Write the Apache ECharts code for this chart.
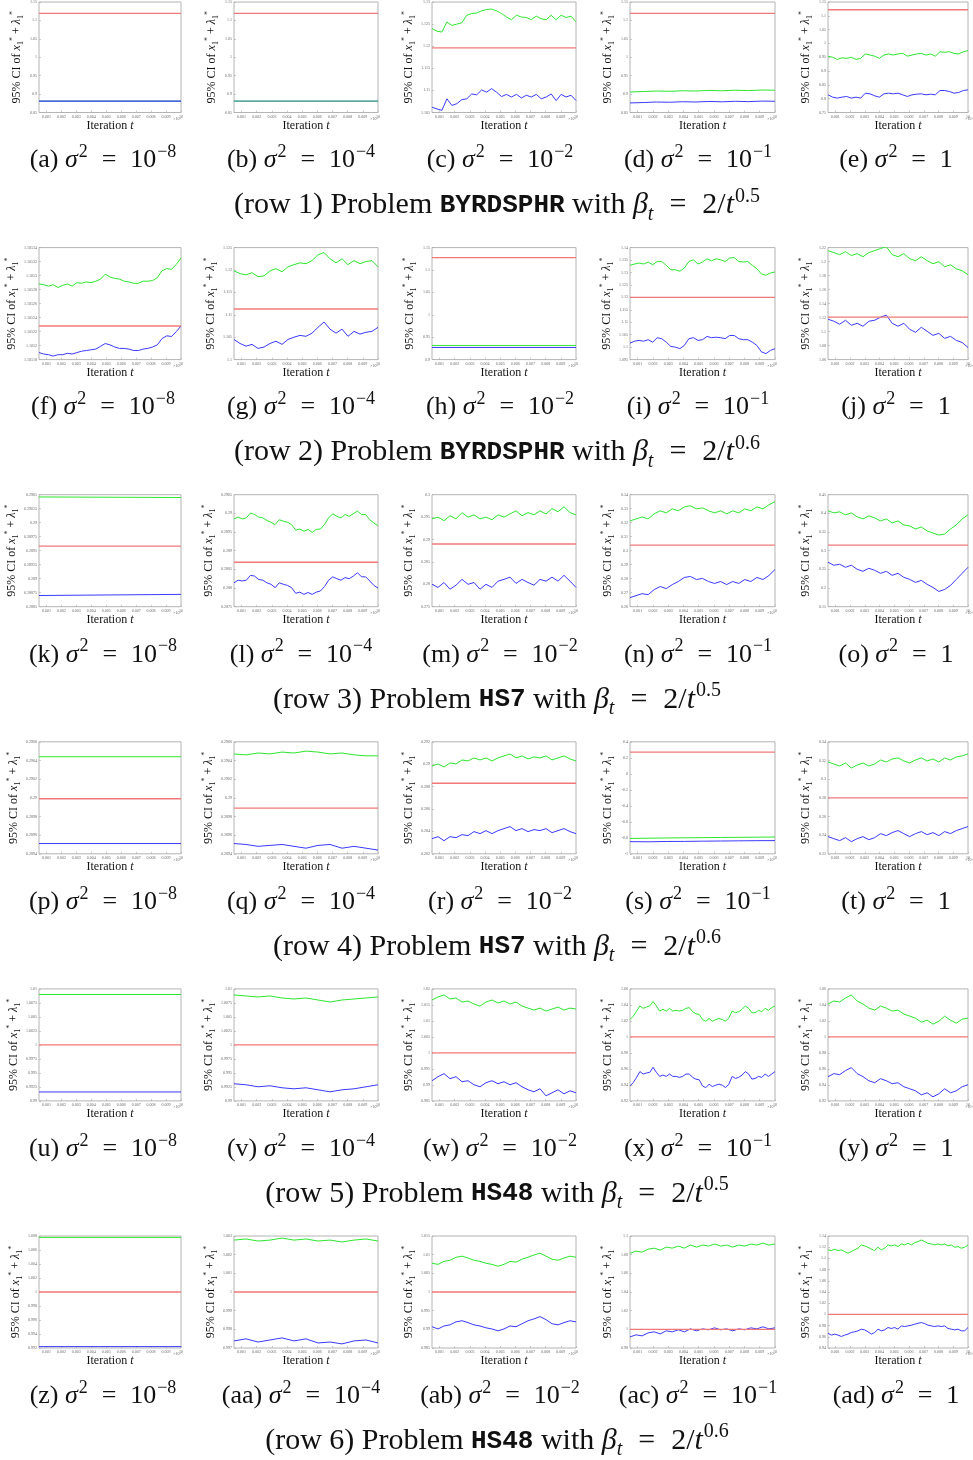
<!DOCTYPE html>
<html><head><meta charset="utf-8">
<script src="https://cdn.jsdelivr.net/npm/echarts@6/dist/echarts.min.js"></script>
<style>html,body{margin:0;padding:0;background:#fff}#c{width:973px;height:1460px}</style>
</head><body><div id="c"></div>
<script>
// ---------------- DATA ----------------
const panelLetters = ['a','b','c','d','e','f','g','h','i','j','k','l','m','n','o','p','q','r','s','t','u','v','w','x','y','z','aa','ab','ac','ad'];
const sigmaExponents = ['−8','−4','−2','−1',null];
const rowProblems = ['BYRDSPHR','BYRDSPHR','HS7','HS7','HS48','HS48'];
const rowBetaExp = ['0.5','0.6','0.5','0.6','0.5','0.6'];
const xTickValues = [1,2,3,4,5,6,7,8,9,10];
const xTickLabels = ['0.001','0.002','0.003','0.004','0.005','0.006','0.007','0.008','0.009','10'];

// true value (red line) per panel
const trueVals = [1.119,1.119,1.1196,1.119,1.122, 1.105228,1.1113,1.1275,1.12,1.1208, 0.28958,0.28869,0.289,0.304,0.315, 0.28999,0.28989,0.2883,0.272,0.28, 1.0,1.0,1.0,1.0,1.0, 1.0,1.0,1.0,1.0,1.0];
// y axis ranges per panel
const yMins  = [0.85,0.85,1.105,0.85,0.75, 1.10518,1.1,0.9,1.095,1.06, 0.2885,0.2875,0.275,0.26,0.15, 0.2894,0.2894,0.282,-1,0.22, 0.99,0.99,0.985,0.92,0.92, 0.992,0.997,0.985,0.98,0.94];
const yMaxs  = [1.15,1.15,1.13,1.15,1.15, 1.10534,1.125,1.15,1.14,1.22, 0.2905,0.2905,0.3,0.34,0.45, 0.2906,0.2906,0.292,0.4,0.34, 1.01,1.01,1.02,1.06,1.06, 1.008,1.003,1.015,1.1,1.14];
const ySteps = [0.05,0.05,0.005,0.05,0.05, 0.00002,0.005,0.05,0.005,0.02, 0.00025,0.0005,0.005,0.01,0.05, 0.0002,0.0002,0.002,0.2,0.02, 0.0025,0.0025,0.005,0.02,0.02, 0.002,0.001,0.005,0.02,0.02];

// upper (green) and lower (blue) CI bounds
const up_a = [0.881,0.881];
const lo_a = [0.881,0.881];
const up_b = [0.881,0.881];
const lo_b = [0.881,0.881];
const up_c = [1.1240,1.1234,1.1232,1.1255,1.1247,1.1250,1.1253,1.1270,1.1274,1.1275,1.1280,1.1283,1.1284,1.1280,1.1274,1.1266,1.1260,1.1270,1.1266,1.1265,1.1260,1.1268,1.1262,1.1260,1.1270,1.1260,1.1270,1.1265,1.1268,1.1255];
const lo_c = [1.1062,1.1058,1.1055,1.1081,1.1066,1.1070,1.1079,1.1081,1.1092,1.1090,1.1101,1.1096,1.1104,1.1096,1.1086,1.1091,1.1085,1.1091,1.1083,1.1089,1.1085,1.1091,1.1081,1.1085,1.1092,1.1077,1.1091,1.1085,1.1089,1.1077];
const up_d = [0.9056,0.9070,0.9083,0.9075,0.9090,0.9083,0.9100,0.9090,0.9105,0.9095,0.9110,0.9105];
const lo_d = [0.8760,0.8770,0.8785,0.8778,0.8792,0.8785,0.8800,0.8790,0.8805,0.8795,0.8810,0.8805];
const up_e = [0.954,0.950,0.942,0.948,0.946,0.950,0.942,0.946,0.962,0.958,0.954,0.946,0.958,0.962,0.958,0.962,0.964,0.954,0.958,0.962,0.964,0.958,0.962,0.954,0.970,0.968,0.970,0.964,0.962,0.970,0.974];
const lo_e = [0.814,0.8056,0.802,0.8056,0.808,0.802,0.8056,0.802,0.820,0.8176,0.8104,0.8056,0.8176,0.820,0.8176,0.820,0.814,0.808,0.814,0.8164,0.8176,0.814,0.8164,0.814,0.8296,0.8296,0.826,0.820,0.8224,0.8296,0.832];
const up_f = [1.105288,1.105287,1.105285,1.105287,1.105283,1.105286,1.105288,1.105285,1.105290,1.105289,1.105291,1.105290,1.105292,1.105295,1.105302,1.105298,1.105296,1.105295,1.105292,1.105291,1.105289,1.105289,1.105292,1.105292,1.105293,1.105297,1.105307,1.105310,1.105309,1.105316,1.105325];
const lo_f = [1.105190,1.105188,1.105187,1.105185,1.105187,1.105187,1.105189,1.105188,1.105190,1.105192,1.105193,1.105194,1.105195,1.105199,1.105203,1.105201,1.105198,1.105196,1.105196,1.105195,1.105193,1.105193,1.105195,1.105196,1.105198,1.105201,1.105210,1.105214,1.105213,1.105220,1.105228];
const up_g = [1.1198,1.1192,1.1189,1.1194,1.1185,1.1187,1.1198,1.1203,1.1196,1.1207,1.1212,1.1216,1.1214,1.1221,1.1234,1.1239,1.1225,1.1216,1.1225,1.1212,1.1221,1.1214,1.1219,1.1221,1.1207];
const lo_g = [1.1045,1.1036,1.1030,1.1034,1.1025,1.1028,1.1036,1.1041,1.1034,1.1045,1.1050,1.1054,1.1052,1.1059,1.1072,1.1084,1.1068,1.1059,1.1068,1.1052,1.1063,1.1057,1.1061,1.1063,1.1072];
const up_h = [0.9316,0.9316];
const lo_h = [0.9271,0.9271];
const up_i = [1.1329,1.1334,1.1338,1.1334,1.1342,1.1331,1.1344,1.1344,1.1329,1.1311,1.1311,1.1305,1.1318,1.1344,1.1351,1.1334,1.1342,1.1355,1.1347,1.1355,1.1351,1.1344,1.1358,1.1360,1.1344,1.1342,1.1344,1.1329,1.1315,1.1294,1.1289,1.1298,1.1302];
const lo_i = [1.1016,1.1024,1.1027,1.1024,1.1030,1.1020,1.1038,1.1034,1.1020,1.1003,1.1000,1.0994,1.1007,1.1034,1.1038,1.1027,1.1030,1.1043,1.1038,1.1040,1.1038,1.1034,1.1047,1.1047,1.1034,1.1030,1.1030,1.1020,1.1007,1.0981,1.0974,1.0987,1.0994];
const up_j = [1.2157,1.2128,1.2099,1.2142,1.2085,1.2114,1.2070,1.2128,1.2157,1.2186,1.2214,1.2099,1.2070,1.2114,1.2041,1.2013,1.2070,1.2013,1.1969,1.1998,1.1926,1.1955,1.1897,1.1869,1.1811];
const lo_j = [1.1177,1.1148,1.1105,1.1162,1.1090,1.1119,1.1076,1.1148,1.1162,1.1206,1.1235,1.1119,1.1076,1.1119,1.1033,1.0990,1.1062,1.1004,1.0946,1.0975,1.0903,1.0932,1.0874,1.0845,1.0773];
const up_k = [0.29046,0.29045];
const lo_k = [0.28870,0.28872];
const up_l = [0.28985,0.28990,0.28985,0.28988,0.29001,0.28997,0.28990,0.28988,0.28981,0.28976,0.28970,0.28983,0.28979,0.28976,0.28970,0.28955,0.28958,0.28952,0.28957,0.28949,0.28957,0.28958,0.28970,0.28988,0.28999,0.28992,0.28988,0.28997,0.28992,0.28999,0.29006,0.28997,0.28997,0.28983,0.28974,0.28967];
const lo_l = [0.28814,0.28821,0.28819,0.28821,0.28834,0.28832,0.28823,0.28821,0.28814,0.28810,0.28801,0.28814,0.28810,0.28807,0.28801,0.28786,0.28789,0.28783,0.28788,0.28783,0.28789,0.28792,0.28804,0.28821,0.28830,0.28825,0.28821,0.28828,0.28825,0.28832,0.28841,0.28830,0.28830,0.28819,0.28807,0.28800];
const up_m = [0.2946,0.2950,0.2942,0.2953,0.2946,0.2960,0.2950,0.2955,0.2946,0.2950,0.2944,0.2955,0.2950,0.2957,0.2964,0.2953,0.2960,0.2955,0.2964,0.2957,0.2969,0.2962,0.2973,0.2960,0.2955];
const lo_m = [0.2800,0.2793,0.2804,0.2789,0.2798,0.2811,0.2800,0.2804,0.2789,0.2800,0.2793,0.2807,0.2811,0.2816,0.2802,0.2811,0.2804,0.2798,0.2811,0.2807,0.2816,0.2807,0.2820,0.2807,0.2793];
const up_n = [0.3213,0.3227,0.3241,0.3227,0.3263,0.3285,0.3270,0.3299,0.3285,0.3313,0.3321,0.3299,0.3306,0.3285,0.3270,0.3285,0.3263,0.3285,0.3270,0.3299,0.3285,0.3313,0.3299,0.3328,0.3350];
const lo_n = [0.2665,0.2679,0.2693,0.2686,0.2722,0.2744,0.2729,0.2758,0.2780,0.2809,0.2816,0.2794,0.2802,0.2780,0.2766,0.2780,0.2758,0.2780,0.2766,0.2794,0.2780,0.2809,0.2794,0.2823,0.2866];
const up_o = [0.4068,0.4014,0.4041,0.3960,0.4014,0.3906,0.3852,0.3933,0.3879,0.3798,0.3852,0.3744,0.3798,0.3690,0.3663,0.3582,0.3636,0.3528,0.3474,0.3420,0.3447,0.3582,0.3690,0.3852,0.3960];
const lo_o = [0.2691,0.2610,0.2637,0.2556,0.2610,0.2502,0.2448,0.2529,0.2475,0.2394,0.2448,0.2340,0.2394,0.2286,0.2232,0.2151,0.2205,0.2097,0.2016,0.1908,0.1962,0.2070,0.2232,0.2394,0.2556];
const up_p = [0.29044,0.29044];
const lo_p = [0.28951,0.28951];
const up_q = [0.29047,0.29046,0.29048,0.29047,0.29049,0.29048,0.29050,0.29049,0.29047,0.29048,0.29046,0.29045,0.29045];
const lo_q = [0.28951,0.28950,0.28948,0.28949,0.28950,0.28948,0.28946,0.28949,0.28950,0.28946,0.28948,0.28946,0.28944];
const up_r = [0.28984,0.29002,0.28975,0.29011,0.29002,0.29038,0.29029,0.29056,0.29038,0.29056,0.29029,0.29056,0.29074,0.29092,0.29056,0.29074,0.29047,0.29065,0.29056,0.29074,0.29038,0.29056,0.29074,0.29047,0.29029];
const lo_r = [0.28335,0.28353,0.28317,0.28353,0.28344,0.28371,0.28362,0.28398,0.28380,0.28407,0.28380,0.28407,0.28425,0.28443,0.28407,0.28425,0.28398,0.28416,0.28407,0.28425,0.28389,0.28407,0.28425,0.28398,0.28380];
const up_s = [-0.808,-0.805,-0.802,-0.800,-0.798,-0.796,-0.794,-0.792,-0.790];
const lo_s = [-0.848,-0.850,-0.846,-0.845,-0.842,-0.840,-0.838,-0.836,-0.835];
const up_t = [0.3184,0.3162,0.3141,0.3173,0.3119,0.3151,0.3173,0.3141,0.3162,0.3205,0.3184,0.3216,0.3227,0.3195,0.3173,0.3205,0.3227,0.3195,0.3216,0.3184,0.3227,0.3205,0.3238,0.3249,0.3270];
const lo_t = [0.2384,0.2362,0.2341,0.2373,0.2330,0.2362,0.2384,0.2351,0.2373,0.2416,0.2395,0.2427,0.2449,0.2416,0.2384,0.2416,0.2438,0.2405,0.2427,0.2395,0.2438,0.2416,0.2449,0.2470,0.2492];
const up_u = [1.009,1.009];
const lo_u = [0.9916,0.9916];
const up_v = [1.00892,1.00874,1.00856,1.00874,1.00838,1.00820,1.00838,1.00802,1.00766,1.00802,1.00820,1.00838,1.00856];
const lo_v = [0.99306,0.99288,0.99252,0.99270,0.99234,0.99216,0.99234,0.99198,0.99162,0.99198,0.99216,0.99252,0.99288];
const up_w = [1.01653,1.01748,1.01811,1.01685,1.01716,1.01590,1.01622,1.01527,1.01464,1.01590,1.01653,1.01559,1.01622,1.01527,1.01590,1.01464,1.01401,1.01338,1.01401,1.01306,1.01369,1.01432,1.01338,1.01401,1.01369];
const lo_w = [0.99131,0.99257,0.99352,0.99194,0.99257,0.99099,0.99131,0.99005,0.98942,0.99068,0.99131,0.99036,0.99099,0.99005,0.99068,0.98942,0.98847,0.98784,0.98879,0.98658,0.98753,0.98847,0.98721,0.98816,0.98753];
const up_x = [1.0217,1.0260,1.0323,1.0387,1.0357,1.0374,1.0387,1.0443,1.0387,1.0323,1.0345,1.0323,1.0357,1.0323,1.0332,1.0323,1.0332,1.0357,1.0366,1.0315,1.0289,1.0281,1.0217,1.0196,1.0230,1.0196,1.0217,1.0230,1.0217,1.0196,1.0238,1.0323,1.0302,1.0315,1.0345,1.0387,1.0357,1.0302,1.0302,1.0332,1.0315,1.0357,1.0332,1.0366,1.0387];
const lo_x = [0.9387,0.9430,0.9494,0.9566,0.9536,0.9549,0.9557,0.9621,0.9557,0.9506,0.9523,0.9506,0.9536,0.9506,0.9506,0.9494,0.9506,0.9536,0.9536,0.9494,0.9472,0.9464,0.9387,0.9366,0.9409,0.9379,0.9396,0.9409,0.9396,0.9366,0.9409,0.9506,0.9481,0.9494,0.9523,0.9566,0.9536,0.9472,0.9481,0.9506,0.9494,0.9536,0.9506,0.9536,0.9566];
const up_y = [1.0411,1.0449,1.0436,1.0487,1.0524,1.0449,1.0411,1.0360,1.0335,1.0386,1.0360,1.0323,1.0335,1.0285,1.0260,1.0234,1.0184,1.0209,1.0159,1.0196,1.0260,1.0209,1.0171,1.0222,1.0234];
const lo_y = [0.9503,0.9541,0.9528,0.9579,0.9616,0.9541,0.9503,0.9452,0.9427,0.9478,0.9452,0.9415,0.9427,0.9377,0.9352,0.9326,0.9276,0.9301,0.9251,0.9289,0.9352,0.9301,0.9326,0.9377,0.9402];
const up_z = [1.0078,1.0078];
const lo_z = [0.9922,0.9922];
const up_aa = [1.00278,1.00284,1.00273,1.00278,1.00289,1.00278,1.00284,1.00273,1.00278,1.00268,1.00278,1.00284,1.00273];
const lo_aa = [0.99738,0.99749,0.99732,0.99743,0.99754,0.99738,0.99749,0.99727,0.99732,0.99722,0.99738,0.99743,0.99727];
const up_ab = [1.0077,1.0074,1.0082,1.0085,1.0093,1.0096,1.0091,1.0085,1.0082,1.0077,1.0074,1.0069,1.0074,1.0082,1.0080,1.0088,1.0093,1.0099,1.0104,1.0096,1.0088,1.0085,1.0091,1.0096,1.0093];
const lo_ab = [0.9907,0.9901,0.9909,0.9912,0.9920,0.9923,0.9918,0.9912,0.9909,0.9904,0.9901,0.9896,0.9901,0.9909,0.9907,0.9915,0.9923,0.9928,0.9934,0.9926,0.9915,0.9912,0.9918,0.9923,0.9920];
const up_ac = [1.0816,1.0838,1.0827,1.0859,1.0870,1.0849,1.0881,1.0870,1.0892,1.0870,1.0903,1.0881,1.0903,1.0892,1.0914,1.0892,1.0903,1.0881,1.0903,1.0892,1.0914,1.0903,1.0924,1.0903,1.0914];
const lo_ac = [0.9919,0.9941,0.9930,0.9962,0.9973,0.9951,0.9984,0.9973,0.9995,0.9973,1.0005,0.9984,1.0005,0.9995,1.0016,0.9995,1.0005,0.9984,1.0005,0.9995,1.0016,1.0005,1.0027,1.0005,1.0016];
const up_ad = [1.1152,1.1140,1.1164,1.1140,1.1152,1.1123,1.1093,1.1123,1.1152,1.1182,1.1241,1.1223,1.1199,1.1164,1.1140,1.1199,1.1152,1.1182,1.1241,1.1223,1.1241,1.1211,1.1258,1.1241,1.1270,1.1241,1.1282,1.1300,1.1329,1.1300,1.1270,1.1258,1.1241,1.1258,1.1241,1.1258,1.1223,1.1241,1.1199,1.1211,1.1182,1.1199,1.1241];
const lo_ad = [0.9665,0.9630,0.9648,0.9630,0.9606,0.9630,0.9648,0.9677,0.9689,0.9707,0.9736,0.9724,0.9689,0.9648,0.9677,0.9736,0.9707,0.9724,0.9766,0.9748,0.9766,0.9736,0.9795,0.9783,0.9795,0.9807,0.9825,0.9842,0.9854,0.9836,0.9807,0.9795,0.9783,0.9795,0.9783,0.9795,0.9748,0.9736,0.9724,0.9736,0.9707,0.9707,0.9766];

const upperSeries = [up_a,up_b,up_c,up_d,up_e,up_f,up_g,up_h,up_i,up_j,up_k,up_l,up_m,up_n,up_o,up_p,up_q,up_r,up_s,up_t,up_u,up_v,up_w,up_x,up_y,up_z,up_aa,up_ab,up_ac,up_ad];
const lowerSeries = [lo_a,lo_b,lo_c,lo_d,lo_e,lo_f,lo_g,lo_h,lo_i,lo_j,lo_k,lo_l,lo_m,lo_n,lo_o,lo_p,lo_q,lo_r,lo_s,lo_t,lo_u,lo_v,lo_w,lo_x,lo_y,lo_z,lo_aa,lo_ab,lo_ac,lo_ad];

// ---------------- LAYOUT / STYLE ----------------
const X_MIN = 0.5, X_MAX = 10;
const SERIF = 'Liberation Serif';
const MONO = 'Liberation Mono';
const colLeft = [39, 234, 432, 630, 828];
const colWidth = [142, 144, 144, 145, 145];
const capCenterX = [103, 301, 500, 698, 896];
const rowTop = r => 0.5 + 247.1 * r;
const PLOT_H = 112;
const GREEN = '#2ee62e', BLUE = '#3a3aff', RED = '#f07878';
const SP = '\u2009\u200a';   // thin + hair space around "="

const xsFor = n => Array.from({length: n}, (_, k) => X_MIN + k * (X_MAX - X_MIN) / (n - 1));
const fmtY = v => String(parseFloat(v.toPrecision(10)));

const grids = [], xAxes = [], yAxes = [], series = [], graphics = [];

const yNameRich = {
  t: {fontFamily: SERIF, fontSize: 12, lineHeight: 16, color: '#111'},
  i: {fontFamily: SERIF, fontSize: 12, lineHeight: 16, fontStyle: 'italic', color: '#111'},
  s: {fontFamily: SERIF, fontSize: 8, lineHeight: 9, verticalAlign: 'bottom', color: '#111'},
  p: {fontFamily: SERIF, fontSize: 8, lineHeight: 9, verticalAlign: 'top', color: '#111'}
};
const xNameRich = {
  t: {fontFamily: SERIF, fontSize: 12, lineHeight: 14, color: '#111'},
  i: {fontFamily: SERIF, fontSize: 12, lineHeight: 14, fontStyle: 'italic', color: '#111'}
};

for (let i = 0; i < 30; i++) {
  const r = Math.floor(i / 5), c = i % 5;
  const top = rowTop(r);
  grids.push({left: colLeft[c], top: top, width: colWidth[c], height: PLOT_H,
    show: true, borderColor: '#b4b4b4', borderWidth: 1, backgroundColor: 'transparent'});
  xAxes.push({
    type: 'value', gridIndex: i, min: X_MIN, max: X_MAX,
    axisLine: {show: false, onZero: false}, splitLine: {show: false},
    axisTick: {show: true, inside: true, length: 2, lineStyle: {color: '#aaa', width: 0.6}, customValues: xTickValues},
    axisLabel: {customValues: xTickValues, fontSize: 4, color: '#666', margin: 2, fontFamily: SERIF,
      formatter: v => xTickLabels[xTickValues.indexOf(Math.round(v))] || ''},
    name: '{t|Iteration }{i|t}', nameLocation: 'middle', nameGap: 5,
    nameTextStyle: {rich: xNameRich}
  });
  yAxes.push({
    type: 'value', gridIndex: i, min: yMins[i], max: yMaxs[i], interval: ySteps[i],
    axisLine: {show: false, onZero: false}, splitLine: {show: false},
    axisTick: {show: true, inside: true, length: 2, lineStyle: {color: '#aaa', width: 0.6}},
    axisLabel: {fontSize: 4, color: '#666', margin: 2, fontFamily: SERIF, formatter: fmtY},
    name: '{t|95% CI of }{i|x}{s|1}{p|*}{t| + }{i|λ}{s|1}{p|*}',
    nameLocation: 'middle', nameRotate: 90, nameGap: 14,
    nameTextStyle: {rich: yNameRich}
  });
  const up = upperSeries[i], lo = lowerSeries[i];
  const xu = xsFor(up.length), xl = xsFor(lo.length);
  series.push({type: 'line', xAxisIndex: i, yAxisIndex: i, showSymbol: false, silent: true,
    data: up.map((v, k) => [xu[k], v]), lineStyle: {color: GREEN, width: 1}, z: 2});
  series.push({type: 'line', xAxisIndex: i, yAxisIndex: i, showSymbol: false, silent: true,
    data: lo.map((v, k) => [xl[k], v]),
    lineStyle: {color: i === 1 ? '#0000ff' : BLUE, width: i === 0 ? 1.4 : 1, opacity: i === 1 ? 0.5 : 1}, z: 3});
  series.push({type: 'line', xAxisIndex: i, yAxisIndex: i, showSymbol: false, silent: true,
    data: [[X_MIN, trueVals[i]], [X_MAX, trueVals[i]]], lineStyle: {color: RED, width: 1.3}, z: 4});

  // x10^4 multiplier
  graphics.push({type: 'text', silent: true, style: {
    text: '×10⁴', x: colLeft[c] + colWidth[c], y: top + PLOT_H + 6,
    fontSize: 4, fontFamily: SERIF, fill: '#666', align: 'right', verticalAlign: 'middle'}});

  // sub-caption
  const exp = sigmaExponents[c];
  const capText = '{n|(' + panelLetters[i] + ') }{i|σ}{sup|2}{n| ' + SP + '= ' + SP + (exp ? '10' : '1') + '}' + (exp ? '{sup|' + exp + '}' : '');
  graphics.push({type: 'text', silent: true, style: {
    text: capText, x: capCenterX[c], y: top + 160, align: 'center', verticalAlign: 'middle',
    rich: {
      n: {fontFamily: SERIF, fontSize: 26, lineHeight: 34, fill: '#111'},
      i: {fontFamily: SERIF, fontSize: 26, lineHeight: 34, fontStyle: 'italic', fill: '#111'},
      sup: {fontFamily: SERIF, fontSize: 18, lineHeight: 22, verticalAlign: 'top', fill: '#111', padding: [0, 0, 0, 1]}
    }}});
}

for (let r = 0; r < 6; r++) {
  const txt = '{n|(row ' + (r + 1) + ') Problem }{m|' + rowProblems[r] + '}{n| with }{i|β}{sub|t}{n| ' + SP + '= ' + SP + '2/}{i|t}{sup|' + rowBetaExp[r] + '}';
  graphics.push({type: 'text', silent: true, style: {
    text: txt, x: 497, y: rowTop(r) + 205, align: 'center', verticalAlign: 'middle',
    rich: {
      n: {fontFamily: SERIF, fontSize: 30, lineHeight: 38, fill: '#111'},
      m: {fontFamily: MONO, fontSize: 26, lineHeight: 38, fill: '#111', fontWeight: 'bold'},
      i: {fontFamily: SERIF, fontSize: 30, lineHeight: 38, fontStyle: 'italic', fill: '#111'},
      sub: {fontFamily: SERIF, fontSize: 20, lineHeight: 20, verticalAlign: 'bottom', fontStyle: 'italic', fill: '#111'},
      sup: {fontFamily: SERIF, fontSize: 20, lineHeight: 25, verticalAlign: 'top', fill: '#111', padding: [0, 0, 0, 1]}
    }}});
}

const chart = echarts.init(document.getElementById('c'), null, {renderer: 'canvas'});
chart.setOption({
  animation: false,
  backgroundColor: '#ffffff',
  grid: grids, xAxis: xAxes, yAxis: yAxes, series: series,
  graphic: {elements: graphics}
});
</script></body></html>
